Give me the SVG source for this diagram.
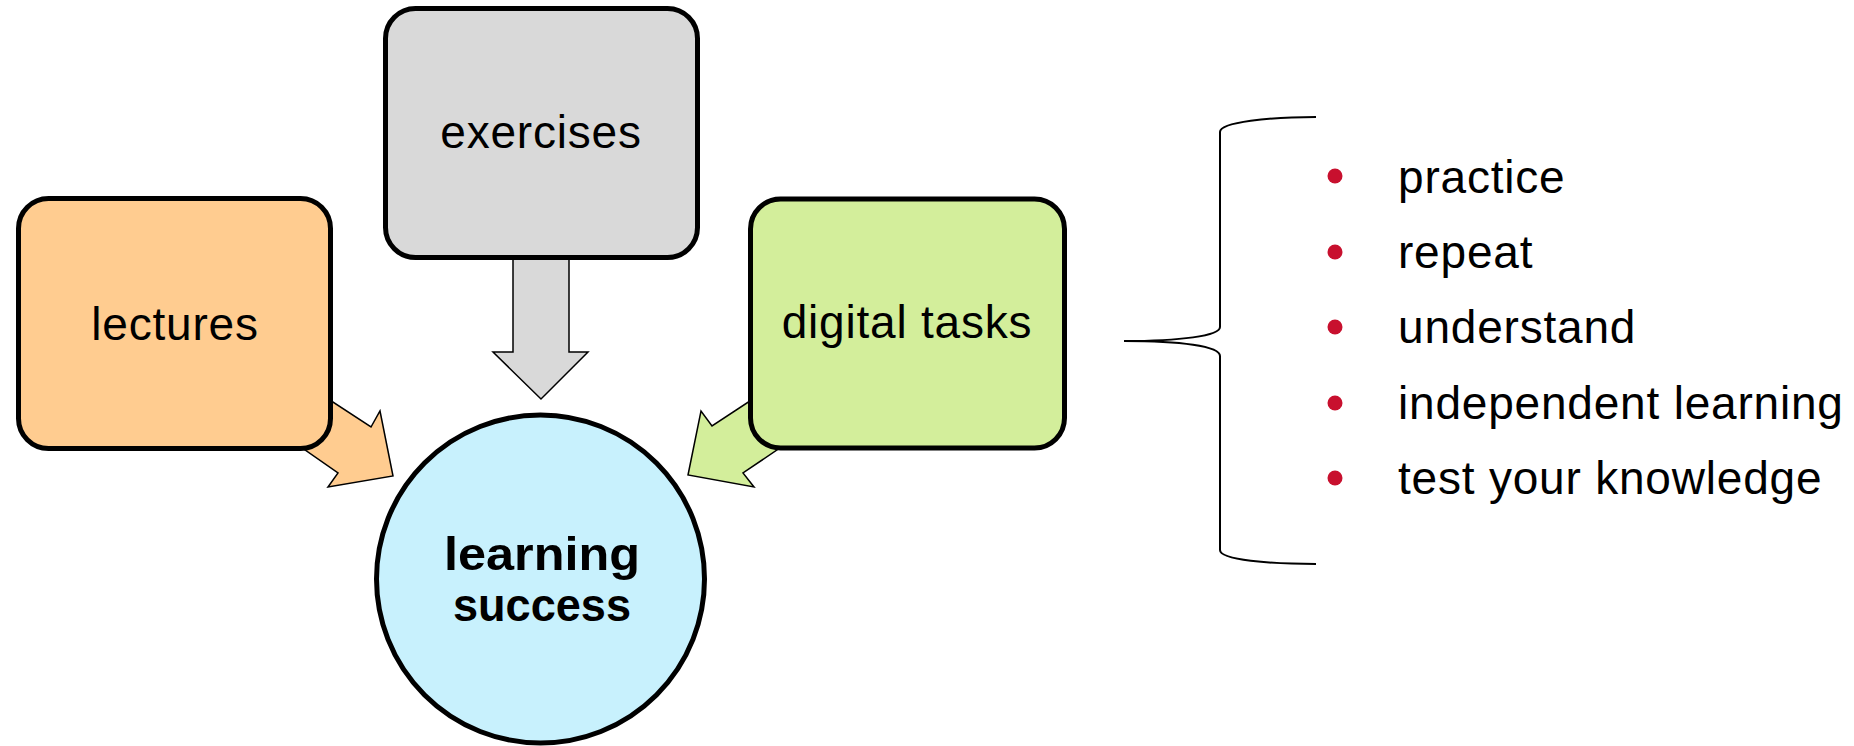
<svg xmlns="http://www.w3.org/2000/svg" width="1854" height="746" viewBox="0 0 1854 746">
<style>
.box{stroke:#000;stroke-width:5}
.arr{stroke:#000;stroke-width:1.5;stroke-linejoin:miter}
.lbl{font-family:"Liberation Sans",Arial,sans-serif;font-size:46px;letter-spacing:0.8px;fill:#000}
.bold{font-weight:bold;font-size:47px;letter-spacing:0}
.dot{fill:#C8102E}
</style>
<rect width="1854" height="746" fill="#fff"/>
<g id="connectors">
<polygon class="arr" fill="#FFCC90" points="290,374 371,427 380,411 393,476 328,487 338,473 265,422"/>
<polygon class="arr" fill="#D9D9D9" points="513,250 569,250 569,352 588,352 541,399 493,352 513,352"/>
<polygon class="arr" fill="#D3EE9B" points="791,374 712,426 701,411 688,475 754,487 743,473 818,422"/>
</g>
<g id="lectures">
<rect class="box" x="18.5" y="198.5" width="312" height="250" rx="30" fill="#FFCC90"/>
<text class="lbl" x="175" y="340" text-anchor="middle">lectures</text>
</g>
<g id="exercises">
<rect class="box" x="385.5" y="8.5" width="312" height="249" rx="30" fill="#D9D9D9"/>
<text class="lbl" x="541" y="148" text-anchor="middle">exercises</text>
</g>
<g id="digital-tasks">
<rect class="box" x="750.5" y="199" width="314" height="249" rx="30" fill="#D3EE9B"/>
<text class="lbl" x="907" y="338" text-anchor="middle">digital tasks</text>
</g>
<g id="learning-success">
<circle class="box" cx="540.5" cy="579" r="164" fill="#C8F1FD"/>
<text class="lbl bold" x="542" y="570" text-anchor="middle" textLength="196" lengthAdjust="spacingAndGlyphs">learning</text>
<text class="lbl bold" x="542" y="621" text-anchor="middle" textLength="178" lengthAdjust="spacingAndGlyphs">success</text>
</g>
<g id="brace">
<path d="M1316,117 C1270,117 1220,122 1220,132 L1220,327 C1220,336 1180,341 1124,341 C1180,341 1220,346 1220,356 L1220,550 C1220,560 1270,564 1316,564" fill="none" stroke="#000" stroke-width="2"/>
</g>
<g id="list">
<circle class="dot" cx="1335" cy="176" r="7.5"/>
<circle class="dot" cx="1335" cy="252" r="7.5"/>
<circle class="dot" cx="1335" cy="327" r="7.5"/>
<circle class="dot" cx="1335" cy="403" r="7.5"/>
<circle class="dot" cx="1335" cy="478" r="7.5"/>
<text class="lbl" x="1398" y="193">practice</text>
<text class="lbl" x="1398" y="268">repeat</text>
<text class="lbl" x="1398" y="343">understand</text>
<text class="lbl" x="1398" y="419">independent learning</text>
<text class="lbl" x="1398" y="494">test your knowledge</text>
</g>
</svg>
